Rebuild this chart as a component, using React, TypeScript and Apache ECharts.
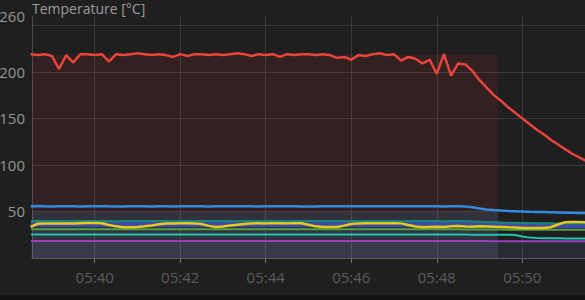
import React, { useEffect, useRef } from "react";
import * as echarts from "echarts";

// sample clock: first sample time and spacing between samples
const SAMPLE_START = "05:38:30";
const SAMPLE_STEP_SECONDS = 10;
const X_MIN = "05:38:32";
const X_MAX = "05:51:28";
const HEAT_END = "05:49:26";

const TITLE = "Temperature [°C]";
const yTickLabels = [50, 100, 150, 200, 260];

const redTemp = [
  219, 218, 219, 217, 203, 218, 210, 219, 219, 218,
  219, 211, 219, 218, 219, 220, 219, 218, 219, 218,
  216, 219, 217, 219, 219, 218, 219, 218, 219, 220,
  219, 217, 219, 218, 219, 216, 219, 218, 219, 219,
  218, 219, 218, 215, 216, 213, 218, 217, 219, 220,
  218, 219, 212, 216, 214, 209, 213, 198, 219, 196,
  209, 208, 201, 191, 183, 175, 169, 162, 156, 150,
  144, 138, 133, 127, 122, 117, 112, 108, 104,
];

const blueTemp = [
  55.6, 55.8, 55.5, 55.4, 55.6, 55.7, 55.5, 55.3, 55.5, 55.6,
  55.7, 55.5, 55.4, 55.3, 55.5, 55.6, 55.5, 55.4, 55.6, 55.5,
  55.4, 55.5, 55.6, 55.5, 55.5, 55.4, 55.5, 55.6, 55.5, 55.5,
  55.6, 55.5, 55.4, 55.5, 55.5, 55.6, 55.5, 55.5, 55.4, 55.3,
  55.4, 55.5, 55.6, 55.6, 55.5, 55.5, 55.6, 55.7, 55.6, 55.5,
  55.5, 55.6, 55.5, 55.5, 55.6, 55.5, 55.5, 55.5, 55.4, 55.5,
  55.5, 55.3, 54.6, 53.2, 52.2, 51.5, 51.0, 50.6, 50.3, 50.0,
  49.7, 49.5, 49.3, 49.1, 48.9, 48.7, 48.5, 48.4, 48.2,
];

const tealTemp = [
  39.7, 39.7, 39.8, 39.7, 39.7, 39.6, 39.7, 39.7, 39.8, 39.7,
  39.7, 39.7, 39.6, 39.7, 39.7, 39.7, 39.8, 39.7, 39.7, 39.7,
  39.6, 39.7, 39.7, 39.7, 39.8, 39.7, 39.7, 39.7, 39.6, 39.7,
  39.7, 39.7, 39.8, 39.7, 39.7, 39.7, 39.6, 39.7, 39.7, 39.7,
  39.8, 39.7, 39.7, 39.7, 39.6, 39.7, 39.7, 39.7, 39.8, 39.7,
  39.7, 39.7, 39.6, 39.7, 39.7, 39.7, 39.7, 39.7, 39.6, 39.7,
  39.7, 39.5, 39.2, 38.9, 38.6, 38.4, 38.2, 38.0, 37.8, 37.6,
  37.5, 37.4, 37.3, 37.3, 37.2, 37.2, 37.1, 37.1, 37.0,
];

const indigoTemp = [
  36.0, 36.0, 36.1, 36.0, 36.0, 36.0, 35.9, 36.0, 36.0, 36.1,
  36.0, 36.0, 36.0, 35.9, 36.0, 36.0, 36.1, 36.0, 36.0, 36.0,
  35.9, 36.0, 36.0, 36.1, 36.0, 36.0, 36.0, 35.9, 36.0, 36.0,
  36.1, 36.0, 36.0, 36.0, 35.9, 36.0, 36.0, 36.1, 36.0, 36.0,
  36.0, 35.9, 36.0, 36.0, 36.1, 36.0, 36.0, 36.0, 35.9, 36.0,
  36.0, 36.1, 36.0, 36.0, 36.0, 35.9, 36.0, 36.0, 36.0, 36.0,
  36.0, 35.9, 35.8, 35.6, 35.4, 35.2, 35.1, 35.0, 34.9, 34.9,
  34.8, 34.8, 34.8, 34.8, 34.8, 34.7, 34.7, 34.7, 34.7,
];

const yellowTemp = [
  33.5, 36.8, 37.0, 37.0, 37.2, 37.0, 37.0, 37.3, 37.5, 37.5,
  37.3, 35.5, 34.0, 33.0, 33.0, 33.3, 34.0, 35.0, 36.2, 37.0,
  37.2, 37.3, 37.3, 37.2, 36.5, 34.5, 33.2, 33.8, 34.8, 35.8,
  36.6, 37.2, 37.3, 37.2, 37.4, 37.3, 37.2, 37.4, 37.3, 35.8,
  34.0, 33.2, 33.2, 33.4, 34.8, 36.5, 37.2, 37.3, 37.4, 37.3,
  37.3, 37.4, 37.2, 35.5, 33.8, 33.0, 33.3, 33.5, 33.2, 34.0,
  34.5, 33.8, 33.5, 34.0, 33.8, 33.6, 33.3, 33.0, 32.8, 32.3,
  32.2, 32.3, 32.2, 33.0, 36.0, 38.5, 38.7, 38.6, 38.5,
];

const greenTemp = [
  30.8, 30.8, 30.8, 30.8, 30.8, 30.8, 30.8, 30.8, 30.8, 30.8,
  30.8, 30.8, 30.8, 30.8, 30.8, 30.8, 30.8, 30.8, 30.8, 30.8,
  30.8, 30.8, 30.8, 30.8, 30.8, 30.8, 30.8, 30.8, 30.8, 30.8,
  30.8, 30.8, 30.8, 30.8, 30.8, 30.8, 30.8, 30.8, 30.8, 30.8,
  30.8, 30.8, 30.8, 30.8, 30.8, 30.8, 30.8, 30.8, 30.8, 30.8,
  30.8, 30.8, 30.8, 30.8, 30.8, 30.8, 30.8, 30.8, 30.8, 30.8,
  30.8, 30.7, 30.7, 30.6, 30.6, 30.5, 30.5, 30.4, 30.4, 30.4,
  30.3, 30.3, 30.3, 30.3, 30.3, 30.3, 30.3, 30.3, 30.3,
];

const cyanTemp = [
  25.2, 25.2, 25.2, 25.2, 25.2, 25.2, 25.2, 25.2, 25.2, 25.2,
  25.2, 25.2, 25.2, 25.2, 25.2, 25.2, 25.2, 25.2, 25.2, 25.2,
  25.2, 25.2, 25.2, 25.2, 25.2, 25.2, 25.2, 25.2, 25.2, 25.2,
  25.2, 25.2, 25.2, 25.2, 25.2, 25.2, 25.2, 25.2, 25.2, 25.2,
  25.2, 25.2, 25.2, 25.2, 25.2, 25.2, 25.2, 25.2, 25.2, 25.2,
  25.2, 25.2, 25.2, 25.2, 25.2, 25.2, 25.2, 25.2, 25.2, 25.2,
  25.2, 25.2, 25.1, 25.1, 25.0, 25.0, 25.0, 25.0, 24.6, 23.2,
  21.9, 21.4, 21.2, 21.1, 21.1, 21.0, 21.0, 21.0, 21.0,
];

const purpleTemp = [
  18.3, 18.3, 18.3, 18.3, 18.3, 18.3, 18.3, 18.3, 18.3, 18.3,
  18.3, 18.3, 18.3, 18.3, 18.3, 18.3, 18.3, 18.3, 18.3, 18.3,
  18.3, 18.3, 18.3, 18.3, 18.3, 18.3, 18.3, 18.3, 18.3, 18.3,
  18.3, 18.3, 18.3, 18.3, 18.3, 18.3, 18.3, 18.3, 18.3, 18.3,
  18.3, 18.3, 18.3, 18.3, 18.3, 18.3, 18.3, 18.3, 18.3, 18.3,
  18.3, 18.3, 18.3, 18.3, 18.3, 18.3, 18.3, 18.3, 18.3, 18.3,
  18.3, 18.3, 18.2, 18.2, 18.2, 18.1, 18.1, 18.1, 18.0, 18.0,
  18.0, 18.0, 18.0, 18.0, 18.0, 18.0, 18.0, 18.0, 18.0,
];

const HEAT_LOW = 50;
const HEAT_HIGH = 218.5;

function toTs(hms: string): number {
  const [h, m, s] = hms.split(":").map(Number);
  return new Date(2024, 0, 1, h, m, s).getTime();
}

const startTs = toTs(SAMPLE_START);
const sampleTimes = redTemp.map((_, i) => startTs + i * SAMPLE_STEP_SECONDS * 1000);
const pair = (vals: number[]) => vals.map((v, i) => [sampleTimes[i], v]);

const FONT = "Open Sans";

export default function App() {
  const ref = useRef<HTMLDivElement>(null);
  useEffect(() => {
    if (!ref.current) return;
    const chart = echarts.init(ref.current, undefined, { renderer: "svg" });
    const xMin = toTs(X_MIN);
    const xMax = toTs(X_MAX);
    const heatEnd = toTs(HEAT_END);
    const line = (name: string, vals: number[], color: string, width: number, extra: any = {}) => ({
      name,
      type: "line",
      data: pair(vals),
      showSymbol: false,
      symbol: "none",
      silent: true,
      lineStyle: { color, width },
      itemStyle: { color },
      ...extra,
    });
    chart.setOption({
      animation: false,
      backgroundColor: "#1f1f1f",
      textStyle: { fontFamily: FONT },
      grid: { left: 32, right: 0, top: 16, bottom: 42, containLabel: false, outerBoundsMode: "none" },
      xAxis: {
        type: "time",
        min: xMin,
        max: xMax,
        minInterval: 150000,
        maxInterval: 150000,
        axisLine: { show: true, lineStyle: { color: "#5a5a5a", width: 1 } },
        axisTick: { show: true, length: 5, lineStyle: { color: "#707070" } },
        axisLabel: {
          formatter: "{HH}:{mm}",
          color: "#5c5c5c",
          fontSize: 15,
          fontFamily: FONT,
          margin: 11,
          showMinLabel: false,
          showMaxLabel: false,
        },
        splitLine: { show: true, lineStyle: { color: "#3a3a3a", width: 1 } },
      },
      yAxis: {
        type: "value",
        min: 0,
        max: 260,
        interval: 50,
        axisLine: { show: true, lineStyle: { color: "#4a4a4a" } },
        axisTick: { show: false },
        axisLabel: {
          color: "#959595",
          fontSize: 15,
          fontFamily: FONT,
          margin: 7,
          formatter: (v: number) => (yTickLabels.includes(v) ? String(v) : ""),
        },
        splitLine: { show: true, showMaxLine: false, lineStyle: { color: "#3a3a3a", width: 1 } },
      },
      graphic: [
        {
          type: "text",
          left: 32,
          top: 1,
          style: { text: TITLE, fill: "#9c9c9c", font: `14px "${FONT}"` },
        },
        {
          type: "rect",
          left: 0,
          top: 295,
          shape: { width: 585, height: 5 },
          style: { fill: "#121212" },
        },
      ],
      series: [
        line("purple", purpleTemp, "#9a3fb5", 2, {
          areaStyle: { color: "rgba(118,138,224,0.15)", origin: "start" },
          markArea: {
            silent: true,
            data: [
              [
                { xAxis: xMin, yAxis: HEAT_LOW, itemStyle: { color: "rgba(230,60,50,0.1)" } },
                { xAxis: heatEnd, yAxis: HEAT_HIGH },
              ],
              [
                { xAxis: xMin, yAxis: 0, itemStyle: { color: "rgba(164,164,231,0.15)" } },
                { xAxis: heatEnd, yAxis: HEAT_LOW },
              ],
            ],
          },
        }),
        line("cyan", cyanTemp, "#1fc4b0", 2),
        line("green", greenTemp, "#4fa346", 2),
        line("indigo", indigoTemp, "#3f4aa8", 5),
        line("teal", tealTemp, "#17877a", 2),
        line("yellow", yellowTemp, "#e8c81a", 2.5),
        line("blue", blueTemp, "#2f8ce0", 2.5),
        line("red", redTemp, "#e8443a", 2.5),
      ],
    });
    return () => chart.dispose();
  }, []);
  return (
    <div
      ref={ref}
      style={{ position: "fixed", left: 0, top: 0, width: 585, height: 300 }}
    />
  );
}
